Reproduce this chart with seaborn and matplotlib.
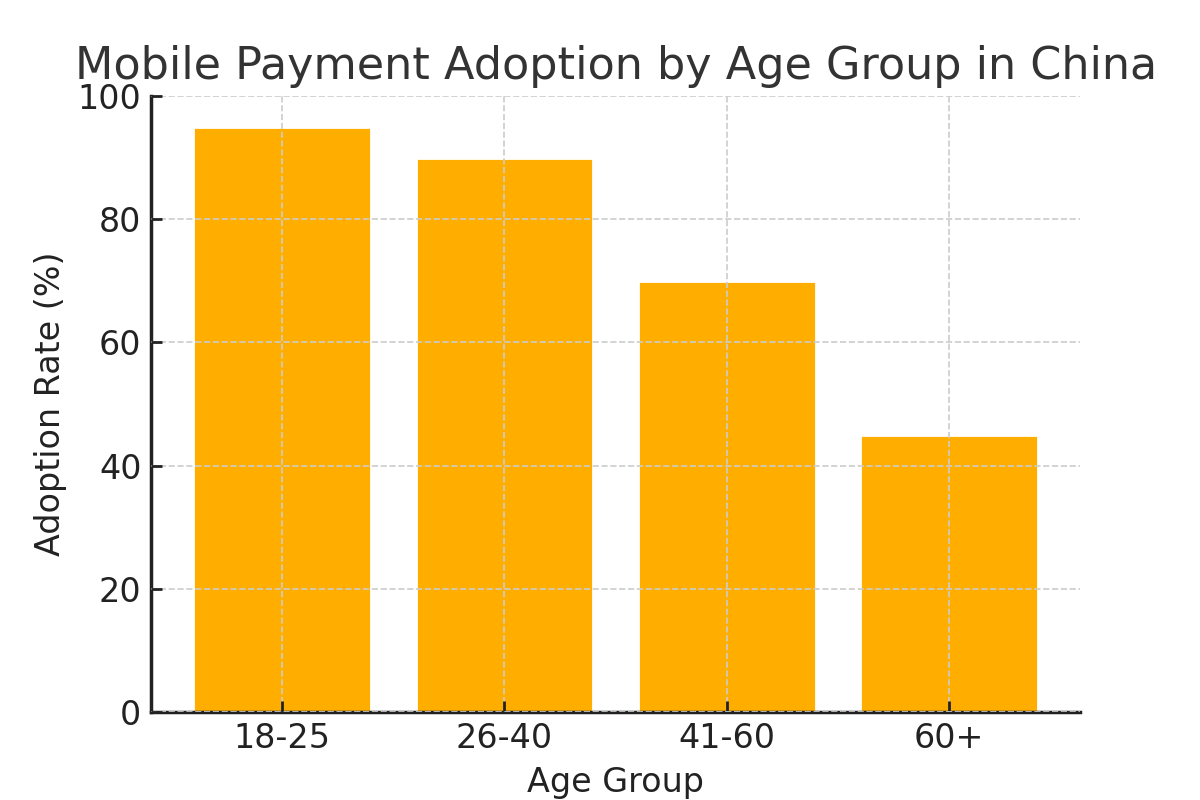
import pandas as pd
import seaborn as sns
import matplotlib.pyplot as plt

age_groups = ['18-25', '26-40', '41-60', '60+']
adoption_rate = [95, 90, 70, 45]

df = pd.DataFrame({'Age Group': age_groups, 'Adoption Rate (%)': adoption_rate})

sns.set_theme(style='ticks')
plt.rcParams['font.family'] = ['DejaVu Sans']
plt.rcParams['text.color'] = '#333333'
plt.rcParams['axes.labelcolor'] = '#222222'
plt.rcParams['xtick.color'] = '#222222'
plt.rcParams['ytick.color'] = '#222222'

fig, ax = plt.subplots(figsize=(6, 4), dpi=200)
fig.subplots_adjust(left=0.126, right=0.9, top=0.88, bottom=0.11)

sns.barplot(data=df, x='Age Group', y='Adoption Rate (%)', color='#FFAE00',
            saturation=1, width=0.8, ax=ax)

# matplotlib default x margins around the bars
ax.set_xlim(-0.59, 3.59)
ax.set_ylim(0, 100)
ax.set_yticks([0, 20, 40, 60, 80, 100])
ax.set_axisbelow(False)
ax.grid(True, linestyle='--', color='#cccccc', linewidth=0.6)
ax.tick_params(direction='in', labelsize=12, length=4, width=1)
ax.spines['top'].set_visible(False)
ax.spines['right'].set_visible(False)
ax.spines['left'].set_color('#222222')
ax.spines['bottom'].set_color('#222222')

ax.set_title('Mobile Payment Adoption by Age Group in China', fontsize=16)
ax.set_xlabel('Age Group', fontsize=12)
ax.set_ylabel('Adoption Rate (%)', fontsize=12)

plt.savefig('out.png', dpi=200)
